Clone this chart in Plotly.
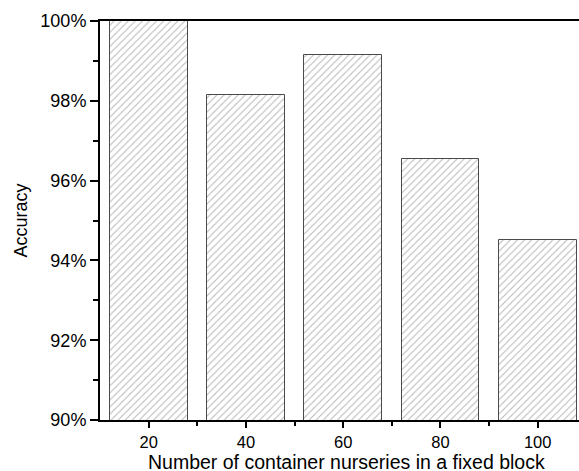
import plotly.graph_objects as go

# Accuracy per block size
nurseries = [20, 40, 60, 80, 100]
accuracy = [100.0, 98.15, 99.15, 96.54, 94.5]

y_ticks = [90, 92, 94, 96, 98, 100]
x_ticks = [20, 40, 60, 80, 100]

font_family = "Liberation Sans, Arial, sans-serif"
x_title = "Number of container nurseries in a fixed block"

fig = go.Figure()
fig.add_trace(go.Bar(
    x=nurseries,
    y=accuracy,
    width=16,
    marker=dict(
        color="white",
        line=dict(color="#4a4a4a", width=1),
        pattern=dict(shape="/", fgcolor="#6e6e6e", bgcolor="white",
                     size=5, solidity=0.2),
    ),
    showlegend=False,
))

fig.update_layout(
    width=579, height=471,
    margin=dict(l=100, r=0, t=21, b=51),
    plot_bgcolor="white",
    paper_bgcolor="white",
    font=dict(family=font_family, size=18, color="black"),
    bargap=0,
)

# x-axis title sits tight under the tick labels, near the bottom edge
fig.add_annotation(
    text=x_title, xref="paper", yref="paper",
    x=0.514, y=-0.1053, xanchor="center", yanchor="middle",
    showarrow=False, font=dict(size=19.5), borderpad=0,
)

fig.update_xaxes(
    range=[10, 108.5],
    tickvals=x_ticks,
    ticktext=[str(v) for v in x_ticks],
    tickfont=dict(size=16.5),
    ticks="outside", ticklen=6, tickwidth=2, tickcolor="black",
    minor=dict(tickvals=[30, 50, 70, 90], ticks="outside", ticklen=4,
               tickwidth=2, tickcolor="black"),
    showline=True, linewidth=2, linecolor="black", mirror=True,
    showgrid=False, zeroline=False,
)

fig.update_yaxes(
    range=[90, 100],
    tickvals=y_ticks,
    ticktext=[f"{v}%" for v in y_ticks],
    tickfont=dict(size=18),
    ticks="outside", ticklen=8, tickwidth=2, tickcolor="black",
    minor=dict(tickvals=[91, 93, 95, 97, 99], ticks="outside", ticklen=5,
               tickwidth=2, tickcolor="black"),
    showline=True, linewidth=2, linecolor="black", mirror=False,
    showgrid=False, zeroline=False,
    title=dict(text="Accuracy", font=dict(size=18), standoff=8),
)

fig.write_html("out.html")
